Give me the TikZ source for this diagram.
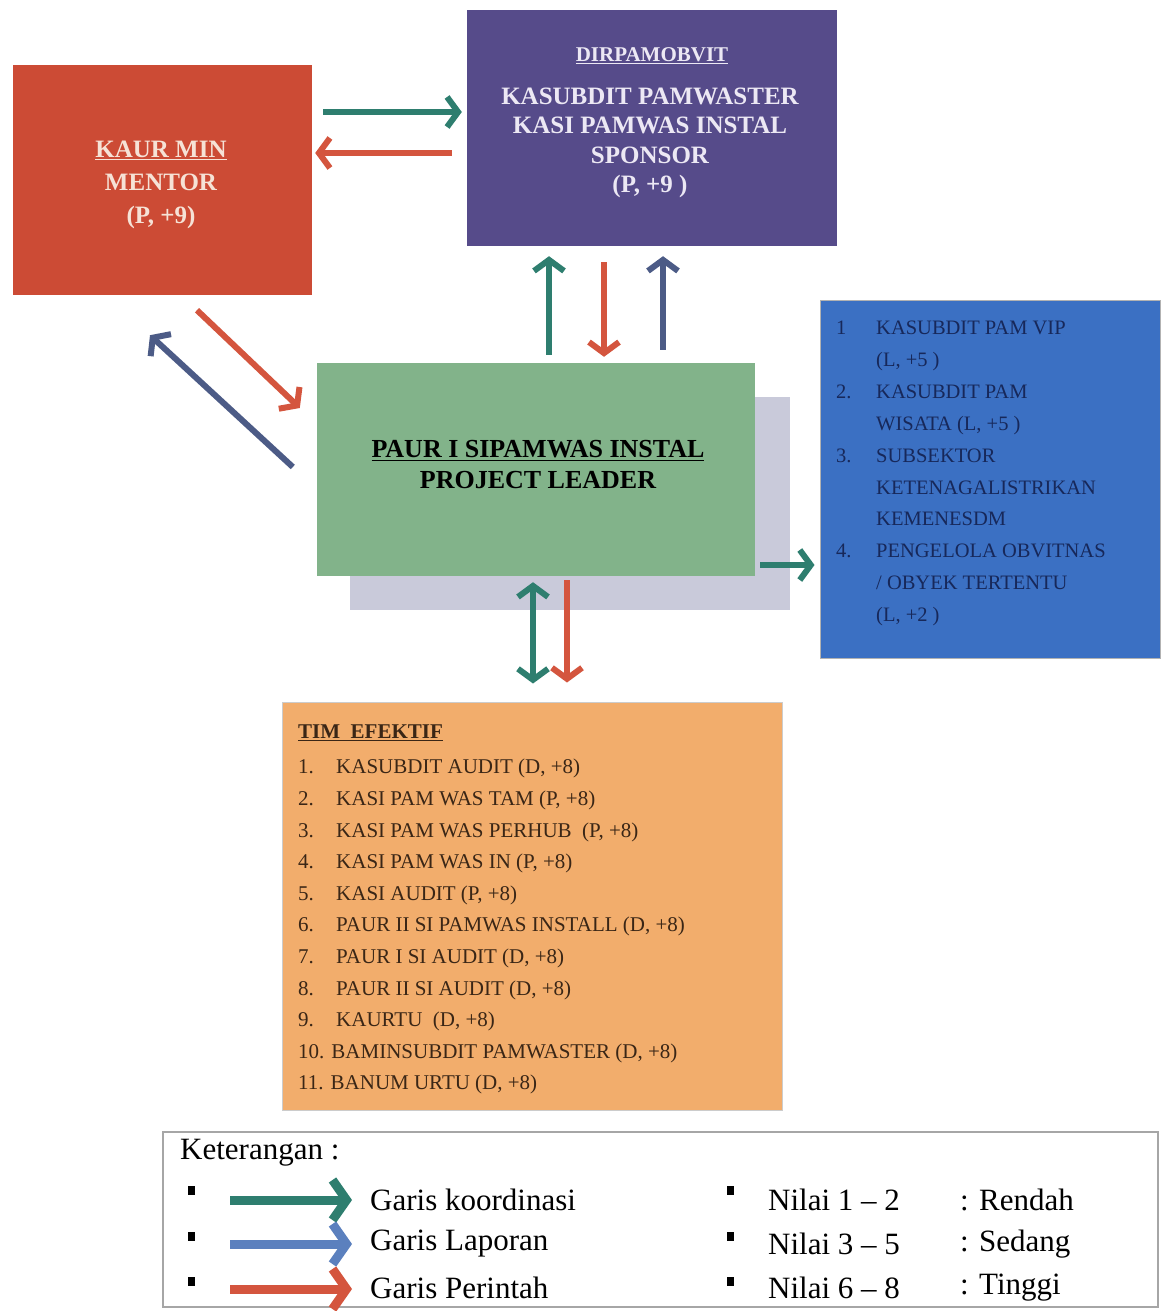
\documentclass[tikz,border=0pt]{standalone}
\usepackage{fontspec}
\setmainfont{Liberation Serif}
\usetikzlibrary{arrows.meta}
\definecolor{cred}{HTML}{CC4B35}
\definecolor{cpurple}{HTML}{564B8A}
\definecolor{cgreen}{HTML}{82B38A}
\definecolor{cshadow}{HTML}{C9CADA}
\definecolor{cblue}{HTML}{3B70C3}
\definecolor{corange}{HTML}{F2AD6C}
\definecolor{cteal}{HTML}{2E7E6F}
\definecolor{carrred}{HTML}{D4553E}
\definecolor{carrblue}{HTML}{4C5B86}
\definecolor{clegblue}{HTML}{5B80BE}
\definecolor{cnavy}{HTML}{17285A}
\definecolor{cbrown}{HTML}{3A2616}
\definecolor{cpale}{HTML}{F6E2D6}
\definecolor{cpalep}{HTML}{ECE8F4}
\begin{document}
\begin{tikzpicture}[x=1pt,y=-1pt,
  box/.style={rectangle, inner sep=0pt, align=center},
  arr/.style={line width=6pt, -{Straight Barb[length=11pt,width=30pt]}},
  darr/.style={line width=6pt, {Straight Barb[length=11pt,width=30pt]}-{Straight Barb[length=11pt,width=30pt]}},
  legarr/.style={line width=9pt, -{Straight Barb[length=14pt,width=40pt]}},
  bullet/.style={rectangle, fill=black, minimum width=7pt, minimum height=9pt, inner sep=0pt},
  legtext/.style={anchor=west, inner sep=0pt, font=\fontsize{31}{35}\selectfont},
  boxfont/.style={font=\bfseries\fontsize{25}{29.5}\selectfont}
]
\useasboundingbox[fill=white] (0,0) rectangle (1161,1311);

% boxes
\node[box, fill=cred, minimum width=299pt, minimum height=230pt] (mentor) at (162.5,180) {};
\node[box, text=cpale, font=\bfseries\fontsize{25}{33}\selectfont] (mentortext) at (161,185)
  {\underline{KAUR MIN}\\MENTOR\\(P, +9)};
\node[box, fill=cpurple, minimum width=370pt, minimum height=236pt] (sponsor) at (652,128) {};
\node[box, text=cpalep, font=\bfseries\fontsize{21}{24}\selectfont] (sponsorhead) at (652,56)
  {\underline{DIRPAMOBVIT}};
\node[box, text=cpalep, boxfont] (sponsortext) at (650,143)
  {KASUBDIT PAMWASTER\\KASI PAMWAS INSTAL\\SPONSOR\\(P, +9 )};
\node[box, fill=cshadow, minimum width=440pt, minimum height=213pt] (shadow) at (570,503.5) {};
\node[box, fill=cgreen, minimum width=438pt, minimum height=213pt] (leader) at (536,469.5) {};
\node[box, text=black, font=\bfseries\fontsize{26}{31}\selectfont] (leadertext) at (538,465)
  {\underline{PAUR I SIPAMWAS INSTAL}\\PROJECT LEADER};
\node[box, fill=cblue, draw=gray!60, line width=1pt, minimum width=340pt, minimum height=358pt] (stake) at (990,479) {};
\node[anchor=north west, inner sep=0pt, text=cnavy, font=\fontsize{20.5}{31.9}\selectfont] (staketext) at (836,312)
  {\begin{tabular}{@{}p{40pt}@{}l@{}}
   1 & KASUBDIT PAM VIP\\
     & (L, +5 )\\
   2. & KASUBDIT PAM\\
     & WISATA (L, +5 )\\
   3. & SUBSEKTOR\\
     & KETENAGALISTRIKAN\\
     & KEMENESDM\\
   4. & PENGELOLA OBVITNAS\\
     & / OBYEK TERTENTU\\
     & (L, +2 )
  \end{tabular}};
\node[box, fill=corange, draw=gray!40, line width=1pt, minimum width=500pt, minimum height=408pt] (team) at (532,906) {};
\node[anchor=north west, inner sep=0pt, text=cbrown, font=\fontsize{21}{31.6}\selectfont] (teamtext) at (298,716)
  {\begin{tabular}{@{}p{38pt}@{}l@{}}
   \multicolumn{2}{@{}l}{\bfseries\underline{TIM\ \ EFEKTIF}}\\[4pt]
   1. & KASUBDIT AUDIT (D, +8)\\
   2. & KASI PAM WAS TAM (P, +8)\\
   3. & KASI PAM WAS PERHUB\ \ (P, +8)\\
   4. & KASI PAM WAS IN (P, +8)\\
   5. & KASI AUDIT (P, +8)\\
   6. & PAUR II SI PAMWAS INSTALL (D, +8)\\
   7. & PAUR I SI AUDIT (D, +8)\\
   8. & PAUR II SI AUDIT (D, +8)\\
   9. & KAURTU\ \ (D, +8)\\
   \multicolumn{2}{@{}l}{10. BAMINSUBDIT PAMWASTER (D, +8)}\\
   \multicolumn{2}{@{}l}{11. BANUM URTU (D, +8)}
  \end{tabular}};

% connectors
\draw[arr, cteal] ([xshift=11pt,yshift=68pt]mentor.east) -- ([xshift=-5pt,yshift=16pt]sponsor.west);
\draw[arr, carrred] ([xshift=-15pt,yshift=-25pt]sponsor.west) -- ([xshift=3pt,yshift=27pt]mentor.east);
\draw[arr, cteal] ([xshift=13pt,yshift=8pt]leader.north) -- ([xshift=-103pt,yshift=-10pt]sponsor.south);
\draw[arr, carrred] ([xshift=-48pt,yshift=-16pt]sponsor.south) -- ([xshift=68pt,yshift=6pt]leader.north);
\draw[arr, carrblue] ([xshift=127pt,yshift=13pt]leader.north) -- ([xshift=11pt,yshift=-10pt]sponsor.south);
\draw[arr, carrred] ([xshift=34.5pt,yshift=-15pt]mentor.south) -- ([xshift=-17pt,yshift=61.5pt]leader.west);
\draw[arr, carrblue] ([xshift=-24pt,yshift=2.5pt]leader.west) -- ([xshift=-12.5pt,yshift=-40pt]mentor.south);
\draw[arr, cteal] ([xshift=5pt,yshift=-95.5pt]leader.east) -- ([xshift=-5pt,yshift=-86pt]stake.west);
\draw[darr, cteal] ([xshift=-3pt,yshift=-6pt]leader.south) -- ([xshift=1pt,yshift=18pt]team.north);
\draw[arr, carrred] ([xshift=31pt,yshift=-4pt]leader.south) -- ([xshift=35pt,yshift=19pt]team.north);

% legend
\node[box, draw=gray!70, line width=1.5pt, fill=white, minimum width=995pt, minimum height=175pt] (legend) at (660.5,1219.5) {};
\node[legtext] (ket) at (180,1153) {Keterangan :};
\node[bullet] (b1) at (191,1190) {};
\node[bullet] (b2) at (191,1236) {};
\node[bullet] (b3) at (191,1281) {};
\coordinate (l1a) at (230,1200); \coordinate (l1b) at (352,1200);
\coordinate (l2a) at (230,1244); \coordinate (l2b) at (352,1244);
\coordinate (l3a) at (230,1289); \coordinate (l3b) at (352,1289);
\draw[legarr, cteal] (l1a) -- (l1b);
\draw[legarr, clegblue] (l2a) -- (l2b);
\draw[legarr, carrred] (l3a) -- (l3b);
\node[legtext] (t1) at (370,1200) {Garis koordinasi};
\node[legtext] (t2) at (370,1244) {Garis Laporan};
\node[legtext] (t3) at (370,1288) {Garis Perintah};
\node[bullet] (b4) at (730,1190) {};
\node[bullet] (b5) at (730,1236) {};
\node[bullet] (b6) at (730,1281) {};
\node[legtext] (n1) at (768,1200) {Nilai 1 -- 2};
\node[legtext] (n2) at (768,1244) {Nilai 3 -- 5};
\node[legtext] (n3) at (768,1288) {Nilai 6 -- 8};
\node[legtext] (r1) at (960,1200) {: Rendah};
\node[legtext] (r2) at (960,1244) {: Sedang};
\node[legtext] (r3) at (960,1288) {: Tinggi};
\end{tikzpicture}
\end{document}
